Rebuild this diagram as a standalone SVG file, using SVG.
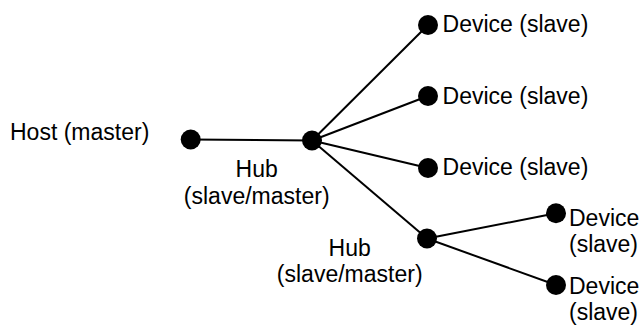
<svg xmlns="http://www.w3.org/2000/svg" width="639" height="325" viewBox="0 0 639 325">
  <style>
    .link { stroke: #000; stroke-width: 2; fill: none; }
    .dot { fill: #000; }
    .lbl { font-family: "Liberation Sans", Arial, Helvetica, sans-serif; font-size: 23px; fill: #000; }
    .mid { text-anchor: middle; }
  </style>
  <rect width="639" height="325" fill="#fff"/>

  <!-- bus links -->
  <g id="connectors">
    <line class="link" x1="190.7" y1="139.5" x2="312" y2="140.5"/>
    <line class="link" x1="312" y1="140.5" x2="428" y2="25"/>
    <line class="link" x1="312" y1="140.5" x2="428" y2="96"/>
    <line class="link" x1="312" y1="140.5" x2="428" y2="168"/>
    <line class="link" x1="312" y1="140.5" x2="427" y2="238.5"/>
    <line class="link" x1="427" y1="238.5" x2="556" y2="213.3"/>
    <line class="link" x1="427" y1="238.5" x2="556" y2="285"/>
  </g>

  <g id="host">
    <circle class="dot" cx="190.7" cy="139.5" r="10"/>
    <text class="lbl" x="10" y="139.5">Host (master)</text>
  </g>

  <g id="hub1">
    <circle class="dot" cx="312" cy="140.5" r="10"/>
    <text class="lbl mid" x="256.7" y="176.7">Hub</text>
    <text class="lbl mid" x="256.7" y="203.5">(slave/master)</text>
  </g>

  <g id="device1">
    <circle class="dot" cx="428" cy="25" r="10"/>
    <text class="lbl" x="442.6" y="32">Device (slave)</text>
  </g>

  <g id="device2">
    <circle class="dot" cx="428" cy="96" r="10"/>
    <text class="lbl" x="442.6" y="103.5">Device (slave)</text>
  </g>

  <g id="device3">
    <circle class="dot" cx="428" cy="168" r="10"/>
    <text class="lbl" x="442.6" y="175">Device (slave)</text>
  </g>

  <g id="hub2">
    <circle class="dot" cx="427" cy="238.5" r="10"/>
    <text class="lbl mid" x="349.7" y="256">Hub</text>
    <text class="lbl mid" x="349.7" y="282">(slave/master)</text>
  </g>

  <g id="device4">
    <circle class="dot" cx="556" cy="213.3" r="10"/>
    <text class="lbl" x="569" y="225.5">Device</text>
    <text class="lbl" x="569" y="251.5">(slave)</text>
  </g>

  <g id="device5">
    <circle class="dot" cx="556" cy="285" r="10"/>
    <text class="lbl" x="569" y="293.5">Device</text>
    <text class="lbl" x="569" y="319.5">(slave)</text>
  </g>
</svg>
